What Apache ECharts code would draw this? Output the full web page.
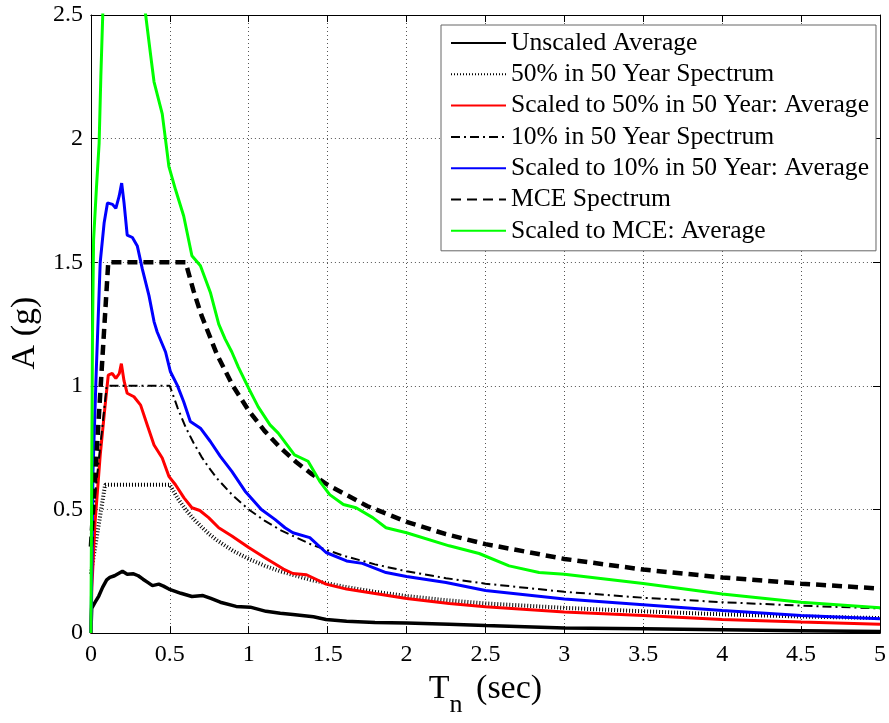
<!DOCTYPE html>
<html>
<head>
<meta charset="utf-8">
<script src="https://cdn.jsdelivr.net/npm/echarts@6/dist/echarts.min.js"></script>
<style>html,body{margin:0;padding:0;background:#fff;}#c{width:889px;height:723px;}</style>
</head>
<body>
<div id="c"></div>
<script>
// ---- data: [period T (sec), spectral acceleration A (g)] ----
var xTicks = [0, 0.5, 1, 1.5, 2, 2.5, 3, 3.5, 4, 4.5, 5];
var yTicks = [0, 0.5, 1, 1.5, 2, 2.5];

var seriesNames = [
  'Unscaled Average',
  '50% in 50 Year Spectrum',
  'Scaled to 50% in 50 Year: Average',
  '10% in 50 Year Spectrum',
  'Scaled to 10% in 50 Year: Average',
  'MCE Spectrum',
  'Scaled to MCE: Average'
];

var unscaledAvg = [[0,0],[0.005,0.1],[0.027,0.125],[0.05,0.15],[0.074,0.185],[0.1,0.215],[0.12,0.225],[0.15,0.232],[0.2,0.25],[0.23,0.238],[0.27,0.24],[0.3,0.232],[0.33,0.218],[0.36,0.205],[0.39,0.192],[0.43,0.198],[0.46,0.19],[0.494,0.178],[0.53,0.17],[0.57,0.161],[0.64,0.148],[0.71,0.152],[0.76,0.14],[0.82,0.125],[0.92,0.108],[1.01,0.105],[1.11,0.088],[1.2,0.08],[1.28,0.075],[1.41,0.066],[1.49,0.055],[1.62,0.048],[1.8,0.043],[2.0,0.041],[2.27,0.036],[2.5,0.031],[3.0,0.021],[3.5,0.018],[4.0,0.014],[4.5,0.01],[5.0,0.006]];

var spec50 = [[0,0.24],[0.09,0.6],[0.5,0.6],[0.55,0.545],[0.6,0.5],[0.65,0.462],[0.7,0.43],[0.75,0.4],[0.8,0.375],[0.9,0.333],[1.0,0.3],[1.1,0.273],[1.2,0.25],[1.4,0.214],[1.6,0.188],[1.8,0.167],[2.0,0.15],[2.25,0.133],[2.5,0.12],[3.0,0.102],[3.5,0.088],[4.0,0.076],[4.5,0.067],[5.0,0.061]];

var scaled50Avg = [[0,0],[0.006,0.185],[0.027,0.453],[0.059,0.72],[0.09,0.92],[0.11,1.043],[0.135,1.05],[0.158,1.03],[0.18,1.05],[0.193,1.09],[0.21,1.02],[0.23,0.97],[0.273,0.956],[0.315,0.922],[0.357,0.842],[0.4,0.761],[0.452,0.708],[0.494,0.634],[0.536,0.6],[0.59,0.547],[0.64,0.507],[0.69,0.496],[0.746,0.467],[0.81,0.426],[0.893,0.393],[1.0,0.346],[1.1,0.306],[1.22,0.259],[1.28,0.241],[1.366,0.236],[1.49,0.198],[1.62,0.178],[1.72,0.168],[1.85,0.155],[2.0,0.14],[2.27,0.12],[2.5,0.107],[3.0,0.085],[3.5,0.071],[4.0,0.055],[4.5,0.045],[5.0,0.036]];

var spec10 = [[0,0.4],[0.1,1.0],[0.5,1.0],[0.55,0.91],[0.6,0.833],[0.65,0.77],[0.7,0.714],[0.75,0.667],[0.8,0.625],[0.9,0.556],[1.0,0.5],[1.1,0.455],[1.2,0.417],[1.4,0.357],[1.6,0.313],[1.8,0.278],[2.0,0.25],[2.25,0.222],[2.5,0.2],[3.0,0.167],[3.5,0.143],[4.0,0.125],[4.5,0.111],[5.0,0.1]];

var scaled10Avg = [[0,0],[0.006,0.25],[0.013,0.65],[0.034,1.06],[0.059,1.5],[0.084,1.66],[0.105,1.74],[0.137,1.734],[0.158,1.718],[0.179,1.767],[0.195,1.82],[0.21,1.74],[0.23,1.61],[0.263,1.6],[0.294,1.566],[0.326,1.472],[0.368,1.365],[0.4,1.26],[0.42,1.218],[0.473,1.137],[0.504,1.057],[0.547,1.003],[0.588,0.936],[0.63,0.856],[0.694,0.829],[0.757,0.775],[0.82,0.715],[0.893,0.654],[0.977,0.574],[1.08,0.5],[1.166,0.46],[1.23,0.426],[1.28,0.406],[1.387,0.386],[1.49,0.326],[1.62,0.292],[1.72,0.282],[1.87,0.245],[2.0,0.229],[2.25,0.205],[2.5,0.172],[3.0,0.138],[3.5,0.115],[4.0,0.091],[4.5,0.071],[5.0,0.058]];

var specMCE = [[0,0.35],[0.11,1.5],[0.6,1.5],[0.65,1.385],[0.7,1.286],[0.8,1.125],[0.9,1.0],[1.0,0.9],[1.1,0.818],[1.2,0.75],[1.3,0.692],[1.4,0.643],[1.5,0.6],[1.75,0.514],[2.0,0.45],[2.25,0.4],[2.5,0.36],[3.0,0.3],[3.5,0.257],[4.0,0.225],[4.5,0.2],[5.0,0.18]];

var scaledMCEAvg = [[0,0],[0.005,0.6],[0.01,1.2],[0.017,1.59],[0.035,1.8],[0.052,1.98],[0.063,2.25],[0.075,2.5],[0.09,2.8],[0.11,3.0],[0.137,3.0],[0.158,2.98],[0.179,3.08],[0.195,3.18],[0.21,3.05],[0.23,2.85],[0.263,2.8],[0.294,2.74],[0.326,2.6],[0.347,2.5],[0.378,2.34],[0.4,2.23],[0.452,2.1],[0.473,1.995],[0.494,1.888],[0.536,1.794],[0.588,1.687],[0.64,1.526],[0.694,1.486],[0.757,1.378],[0.81,1.25],[0.85,1.19],[0.893,1.137],[0.935,1.075],[1.0,0.99],[1.06,0.915],[1.135,0.842],[1.187,0.809],[1.29,0.721],[1.376,0.695],[1.45,0.614],[1.513,0.56],[1.6,0.52],[1.68,0.507],[1.786,0.467],[1.87,0.426],[2.0,0.406],[2.27,0.353],[2.46,0.322],[2.65,0.272],[2.84,0.245],[3.0,0.238],[3.5,0.201],[4.0,0.158],[4.5,0.125],[5.0,0.103]];

// ---- chart ----
var FONT = '"Liberation Serif", "Times New Roman", serif';
var chart = echarts.init(document.getElementById('c'), null, {renderer: 'canvas'});

function mkSeries(name, data, color, width, type, z) {
  return {
    name: name, type: 'line', data: data, showSymbol: false, symbol: 'none',
    clip: true, z: z, animation: false,
    lineStyle: {color: color, width: width, type: type},
    itemStyle: {color: color}
  };
}

var baseAxis = {
  type: 'value', min: 0,
  axisLine: {show: true, onZero: false, lineStyle: {color: '#000', width: 1}},
  axisTick: {show: true, inside: true, length: 7, lineStyle: {color: '#000'}},
  axisLabel: {color: '#000', fontFamily: FONT, fontSize: 24},
  splitLine: {show: false}
};

var option = {
  backgroundColor: '#fff',
  animation: false,
  grid: {left: 90, right: 6, top: 15, bottom: 87, containLabel: false},
  xAxis: [
    Object.assign({}, baseAxis, {
      max: 5, interval: 0.5, position: 'bottom',
      axisLabel: {color: '#000', fontFamily: FONT, fontSize: 24, margin: 10,
        formatter: function (v) { return xTicks.indexOf(v) >= 0 ? String(v) : ''; }},
      splitLine: {show: true, lineStyle: {color: '#555', width: 1, type: [1, 3]}},
      name: '{t|T}{n|n}{s| (sec)}', nameLocation: 'middle', nameGap: 36,
      nameTextStyle: {
        rich: {
          t: {fontFamily: FONT, fontSize: 34, color: '#000', verticalAlign: 'top', lineHeight: 46},
          n: {fontFamily: FONT, fontSize: 26, color: '#000', verticalAlign: 'bottom', lineHeight: 46, padding: [0, 5, 0, 0]},
          s: {fontFamily: FONT, fontSize: 34, color: '#000', verticalAlign: 'top', lineHeight: 46}
        }
      }
    }),
    Object.assign({}, baseAxis, {
      max: 5, interval: 0.5, position: 'top',
      axisLabel: {show: false}
    })
  ],
  yAxis: [
    Object.assign({}, baseAxis, {
      max: 2.5, interval: 0.5, position: 'left',
      axisLabel: {color: '#000', fontFamily: FONT, fontSize: 24, margin: 8,
        formatter: function (v) { return yTicks.indexOf(v) >= 0 ? String(v) : ''; }},
      splitLine: {show: true, lineStyle: {color: '#555', width: 1, type: [1, 3]}},
      name: 'A (g)', nameLocation: 'middle', nameGap: 44,
      nameTextStyle: {fontFamily: FONT, fontSize: 34, color: '#000', padding: [0, 18, 0, 0]}
    }),
    Object.assign({}, baseAxis, {
      max: 2.5, interval: 0.5, position: 'right',
      axisLabel: {show: false}
    })
  ],
  legend: {
    orient: 'vertical', left: 441, top: 25,
    data: seriesNames,
    backgroundColor: '#fff', borderColor: '#666', borderWidth: 1, borderRadius: 0,
    padding: [5, 7, 7, 9],
    itemWidth: 55, itemHeight: 12, itemGap: 5.3,
    itemStyle: {opacity: 0},
    textStyle: {fontFamily: FONT, fontSize: 25.6, color: '#000', lineHeight: 25, padding: [0, 0, 0, 0]},
    selectedMode: false
  },
  series: [
    mkSeries(seriesNames[0], unscaledAvg, '#000000', 3.5, 'solid', 2),
    mkSeries(seriesNames[1], spec50, '#000000', 4, [1, 2], 3),
    mkSeries(seriesNames[2], scaled50Avg, '#ff0000', 3, 'solid', 4),
    mkSeries(seriesNames[3], spec10, '#000000', 2, [9, 4, 2, 4], 5),
    mkSeries(seriesNames[4], scaled10Avg, '#0000ff', 3, 'solid', 6),
    mkSeries(seriesNames[5], specMCE, '#000000', 4.5, [10, 6], 7),
    mkSeries(seriesNames[6], scaledMCEAvg, '#00ff00', 3, 'solid', 8)
  ]
};
chart.setOption(option);
</script>
</body>
</html>
